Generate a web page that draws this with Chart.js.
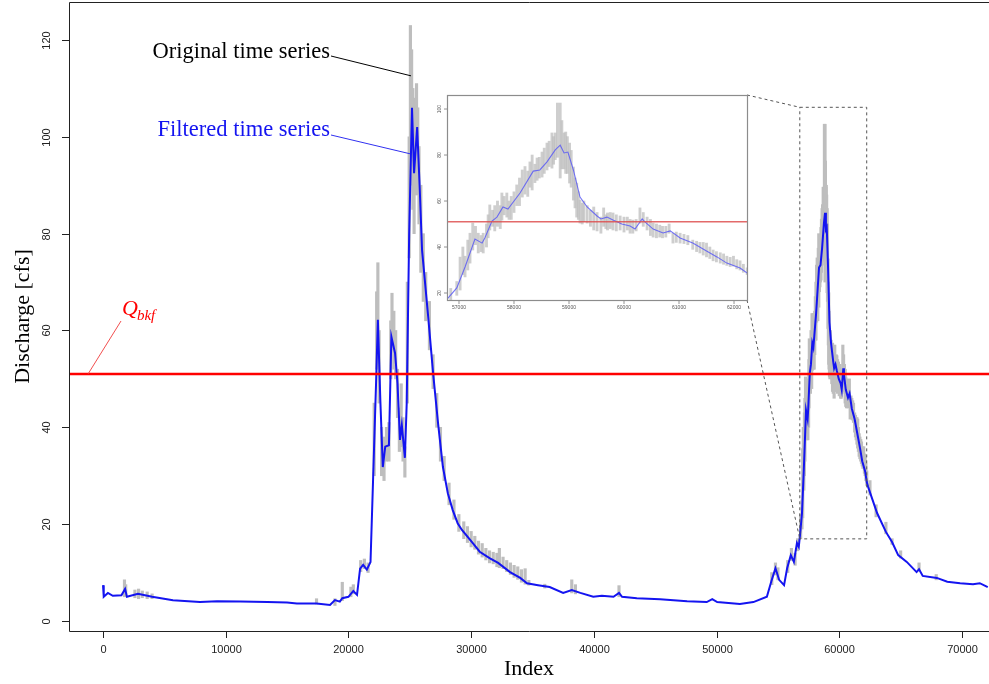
<!DOCTYPE html>
<html>
<head>
<meta charset="utf-8">
<script src="https://cdn.jsdelivr.net/npm/chart.js@4.4.0/dist/chart.umd.min.js"></script>
<style>
html, body { margin: 0; padding: 0; background: #fff; }
#wrap { position: relative; width: 989px; height: 684px; }
#main { position: absolute; left: 0; top: 0; }
#inset { position: absolute; left: 430px; top: 88px; }
</style>
</head>
<body>
<div id="wrap">
  <canvas id="main" width="989" height="684"></canvas>
  <canvas id="inset" width="322" height="226"></canvas>
</div>
<script>
// filtered series (blue)
const filteredIdx = [0, 60, 400, 800, 1500, 1800, 1950, 2850, 4000, 5700, 7900, 9300, 11200, 13400, 15000, 15800, 17400, 18500, 18900, 19300,
  19500, 20000, 20400, 20700, 20950, 21200, 21500, 21800, 22000, 22250, 22400, 22600, 22800, 23000, 23300, 23500, 23800, 24000, 24200, 24350,
  24600, 24750, 24950, 25180, 25350, 25600, 25800, 26000, 26500, 26900, 27300, 27700, 28100, 28500, 28900, 29250, 30070, 30700, 31500, 32200,
  33170, 34000, 34550, 35450, 36400, 37500, 38200, 38900, 39950, 40650, 41600, 42050, 42300, 43500, 45400, 47600, 49200, 49650, 50050, 51900,
  53000, 54100, 54500, 54800, 55100, 55500, 55750, 56050, 56300, 56550, 56700, 56800, 56960, 57110, 57290, 57420, 57470, 57600, 57690, 57800,
  57890, 58110, 58350, 58470, 58600, 58750, 58840, 58910, 58980, 59080, 59200, 59330, 59510, 59580, 59690, 59800, 59960, 60110, 60200, 60330,
  60380, 60530, 60710, 60840, 61020, 61250, 61500, 61690, 61870, 62110, 62240, 62350, 63080, 63800, 64300, 64800, 65500, 66300, 66500, 66800,
  67950, 68800, 69850, 70900, 71450, 72100];
const filteredVal = [7.4, 5.0, 5.8, 5.2, 5.3, 6.6, 5.0, 5.6, 5.0, 4.3, 3.9, 4.1, 4.0, 3.9, 3.8, 3.6, 3.6, 3.3, 4.3, 4.0,
  4.7, 5.0, 6.2, 5.4, 10.8, 11.6, 10.6, 12.2, 28.5, 49, 62.2, 45.6, 31.8, 36, 36.3, 58.7, 55.3, 49, 37.4, 40.5,
  33.7, 45, 80, 106, 92.5, 102, 90, 76.6, 62.8, 51.2, 40.9, 31.8, 26.4, 22.9, 20.2, 18.8, 16.3, 14.3, 13.0, 12.0,
  10.1, 8.9, 7.8, 7.4, 7.0, 5.8, 6.4, 5.8, 5.0, 5.2, 5.0, 5.8, 5.0, 4.7, 4.5, 4.1, 3.9, 4.5, 3.9, 3.5,
  3.9, 5.0, 8.5, 10.9, 8.5, 7.4, 10.9, 13.6, 12.2, 16.1, 15.3, 17.8, 22.2, 31.3, 43.5, 41.7, 43.9, 51.3, 53, 57.4,
  56.5, 63.5, 73, 73.5, 77, 82.2, 84.3, 80.9, 81.3, 73.5, 61.7, 57.4, 53.5, 52.2, 53, 51.7, 50, 49.1, 47.8, 52.2,
  50.9, 47.8, 46.1, 47, 43.9, 41.7, 38.3, 35.7, 33, 30.9, 28.7, 27.7, 22.3, 18.4, 16.3, 13.6, 12.2, 10.1, 10.7, 9.3,
  8.9, 8.1, 7.8, 7.6, 7.8, 7.0];

// original series (grey): low and high of the raw values around each index
const origIdx = [1750, 1850, 2600, 2900, 3200, 3600, 4000, 17400, 18900, 19500, 20200, 20400, 21000, 21300, 21600,
  22100, 22300, 22400, 22500, 22700, 22900, 23100, 23300, 23450, 23550, 23700, 23850, 24000, 24150, 24300, 24450, 24600,
  24800, 24950, 25050, 25150, 25250, 25350, 25450, 25550, 25650, 25750, 25900, 26100, 26300, 26600, 26900, 27200, 27500, 27800,
  28200, 28600, 29000, 29400, 29700, 30000, 30300, 30600, 30900, 31200, 31500, 31800, 32100, 32300, 32600, 32900, 33200, 33500,
  33800, 34100, 34400, 34700, 36000, 38200, 38500, 42050, 54500, 54800, 55000, 55800, 56100, 56400, 56600,
  56850, 56960, 57020, 57070, 57110, 57160, 57200, 57250, 57300, 57350, 57400, 57440, 57500, 57530, 57560, 57610,
  57650, 57700, 57750, 57780, 57820, 57870, 57910, 57950, 58000, 58050, 58100, 58150, 58200, 58250, 58290, 58330,
  58380, 58420, 58460, 58510, 58550, 58600, 58640, 58690, 58720, 58750, 58790, 58840, 58870, 58910, 58940, 58970,
  59010, 59040, 59080, 59110, 59140, 59170, 59200, 59240, 59270, 59330, 59390, 59450, 59510, 59580, 59630, 59670,
  59700, 59750, 59800, 59860, 59930, 60000, 60060, 60110, 60160, 60220, 60290, 60350, 60420, 60480, 60530, 60590,
  60650, 60700, 60760, 60820, 60890, 60950, 61020, 61090, 61160, 61250, 61320, 61380, 61440, 61500, 61560, 61620,
  61680, 61750, 61810, 61870, 61930, 61990, 62050, 62110, 62170, 62240,
  62500, 63000, 63800, 64300, 65000, 66500, 67900];
const origLow = [5.0, 5.5, 4.8, 4.6, 4.8, 4.6, 4.6, 3.5, 3.2, 4.2, 5.0, 5.6, 10.2, 10.8, 10.0,
  30, 52, 58, 45, 30, 29, 33, 33, 50, 56, 52, 50, 42, 35, 36, 33, 29.7,
  45, 75, 90, 96, 85, 80, 88, 92, 88, 82, 72, 66, 62, 56, 48, 40, 33, 29,
  24, 21, 18.5, 17, 16.2, 15.3, 14.8, 13.8, 13.2, 12.6, 12.0, 11.8, 11.2, 11.0, 10.8, 10.2, 9.6, 9.0,
  8.6, 8.0, 7.6, 7.4, 6.8, 5.8, 5.6, 5.0, 7.5, 9.5, 8.5, 10, 12.5, 11.5, 14.5,
  17, 19, 21.3, 28, 27, 30, 33, 38.7, 41, 37.4, 38, 37.4, 40, 44, 47.4, 49,
  47, 49, 48, 51.7, 54, 53, 52, 52, 55, 58, 58, 61.7, 63, 62, 66, 64.8,
  68, 69, 70, 70.4, 72, 73.5, 75, 74.3, 76, 78, 79, 70, 74, 74, 72, 72,
  67.8, 66, 60.4, 57, 53, 52, 50.4, 50, 51, 50.4, 49, 47.4, 47, 46, 49, 48,
  47.4, 48, 47.4, 47, 47.4, 46.5, 47.4, 46, 46, 47, 50.4, 49, 47.4, 45, 44.3, 44,
  44.3, 44, 44.3, 46, 41.7, 42, 41.7, 41.5, 41, 39, 38, 37.4, 36.5, 35.7, 35, 34,
  33.5, 33, 32.5, 32, 31.5, 31.7, 30.5, 30, 29, 28,
  26, 21.5, 18, 15.8, 13, 10.3, 8.5];
const origHigh = [8.5, 7.5, 6.4, 6.6, 6.2, 6.0, 5.6, 4.6, 4.6, 8.0, 7.0, 7.5, 12.5, 12.8, 12.0,
  45, 68, 74, 60, 40, 38, 40, 41, 62, 67.7, 64, 60, 52, 44, 49, 42, 36,
  70, 100, 123, 118, 110, 100, 108, 111, 106, 98, 90, 80, 72, 66, 55, 47, 40, 34,
  28.5, 25, 22, 20.5, 19.5, 18.5, 17.5, 16.5, 16, 15, 14.5, 14.2, 14.0, 15.0, 13.2, 12.5, 12, 11.5,
  11.2, 10.6, 10.8, 8.4, 7.6, 8.5, 7.5, 7.3, 10, 12, 11, 12.5, 15, 14, 17,
  22, 25, 35.6, 40, 36, 43, 46, 50.4, 49, 46, 45, 46, 50, 54, 58.3, 56,
  58, 60, 58, 63.5, 62, 63.5, 60, 62, 64, 67, 70, 73.5, 75, 73, 77, 80,
  76, 78.7, 79, 81.3, 83, 85.2, 86, 89.6, 88, 89.6, 102.6, 102.6, 95, 89.6, 90, 88,
  85.2, 82, 74.8, 70, 67.8, 64, 60.4, 59, 60, 58, 56, 57.4, 55, 53, 57, 54,
  54.8, 55, 54.8, 54, 53.5, 53, 53, 52, 51.7, 52, 57, 55, 53, 52, 50.4, 50,
  49.5, 49, 49, 50, 46, 46.5, 46, 45.5, 45, 43, 42.5, 42, 42, 41.7, 40, 38.7,
  38, 37.5, 37, 36, 35.5, 36, 34.5, 34, 32.5, 31,
  29, 24, 20.4, 17, 14.5, 12, 9.6];

const qbkf = 51;

const xTicks = [0, 10000, 20000, 30000, 40000, 50000, 60000, 70000];
const yTicks = [0, 20, 40, 60, 80, 100, 120];
const xLimits = [-2771, 72201];
const yLimits = [-2.07, 127.85];

const insetXTicks = [57000, 58000, 59000, 60000, 61000, 62000];
const insetYTicks = [20, 40, 60, 80, 100];
const insetXLimits = [56782, 62236];
const insetYLimits = [16.96, 106.1];

const filteredPts = filteredIdx.map((x, i) => ({x: x, y: filteredVal[i]}));
const origPts = origIdx.map((x, i) => ({x: x, y: [origLow[i], origHigh[i]]}));

const insetDecor = {
  id: 'insetDecor',
  afterDatasetsDraw(chart) {
    const {ctx, chartArea: a, scales: {x, y}} = chart;
    ctx.save();
    ctx.strokeStyle = '#8c8c8c';
    ctx.lineWidth = 1.2;
    ctx.strokeRect(a.left + 0.5, a.top + 0.5, a.right - a.left, a.bottom - a.top);
    ctx.lineWidth = 0.8;
    ctx.strokeStyle = '#777';
    ctx.fillStyle = '#555';
    ctx.font = '5px "Liberation Sans", Arial, sans-serif';
    ctx.textAlign = 'center';
    ctx.textBaseline = 'middle';
    insetXTicks.forEach(v => {
      const px = x.getPixelForValue(v);
      ctx.beginPath(); ctx.moveTo(px, a.bottom + 1); ctx.lineTo(px, a.bottom + 4); ctx.stroke();
      ctx.fillText(String(v), px, a.bottom + 8);
    });
    insetYTicks.forEach(v => {
      const py = y.getPixelForValue(v);
      ctx.beginPath(); ctx.moveTo(a.left - 3, py); ctx.lineTo(a.left, py); ctx.stroke();
      ctx.save(); ctx.translate(a.left - 7, py); ctx.rotate(-Math.PI / 2);
      ctx.fillText(String(v), 0, 0);
      ctx.restore();
    });
    ctx.restore();
  }
};

const insetChart = new Chart(document.getElementById('inset'), {
  type: 'line',
  data: {
    datasets: [
      {type: 'line', data: [{x: insetXLimits[0], y: qbkf}, {x: insetXLimits[1], y: qbkf}], borderColor: 'rgba(222,80,80,0.85)', borderWidth: 1.5, pointRadius: 0, order: 1},
      {type: 'line', data: filteredPts, borderColor: 'rgba(90,90,245,0.85)', borderWidth: 1.1, pointRadius: 0, order: 2},
      {type: 'bar', data: origPts, backgroundColor: 'rgba(190,190,190,0.75)', barThickness: 2.2, order: 3}
    ]
  },
  options: {
    responsive: false, animation: false, events: [],
    layout: {padding: {left: 17, top: 7, right: 5, bottom: 14}},
    plugins: {legend: {display: false}, tooltip: {enabled: false}},
    scales: {
      x: {type: 'linear', min: insetXLimits[0], max: insetXLimits[1], display: false, offset: false},
      y: {type: 'linear', min: insetYLimits[0], max: insetYLimits[1], display: false}
    }
  },
  plugins: [insetDecor]
});

const mainDecor = {
  id: 'mainDecor',
  afterDatasetsDraw(chart) {
    const {ctx, chartArea: a, scales: {x, y}} = chart;
    ctx.save();
    // box (right side is off the picture)
    ctx.strokeStyle = '#222';
    ctx.lineWidth = 1;
    ctx.beginPath();
    ctx.moveTo(a.right, a.top + 0.5);
    ctx.lineTo(a.left + 0.5, a.top + 0.5);
    ctx.lineTo(a.left + 0.5, a.bottom + 0.5);
    ctx.lineTo(a.right, a.bottom + 0.5);
    ctx.stroke();

    ctx.fillStyle = '#222';
    ctx.font = '11px "Liberation Sans", Arial, sans-serif';
    ctx.textAlign = 'center';
    ctx.textBaseline = 'middle';
    xTicks.forEach(v => {
      const px = Math.round(x.getPixelForValue(v)) + 0.5;
      ctx.beginPath(); ctx.moveTo(px, a.bottom); ctx.lineTo(px, a.bottom + 7); ctx.stroke();
      ctx.fillText(String(v), px, a.bottom + 19);
    });
    yTicks.forEach(v => {
      const py = Math.round(y.getPixelForValue(v)) + 0.5;
      ctx.beginPath(); ctx.moveTo(a.left - 7, py); ctx.lineTo(a.left, py); ctx.stroke();
      ctx.save(); ctx.translate(a.left - 22, py); ctx.rotate(-Math.PI / 2);
      ctx.fillText(String(v), 0, 0);
      ctx.restore();
    });

    ctx.fillStyle = '#000';
    ctx.font = '22px "Liberation Serif", "Times New Roman", serif';
    ctx.fillText('Index', (a.left + a.right) / 2, a.bottom + 38);
    ctx.save(); ctx.translate(23, (a.top + a.bottom) / 2); ctx.rotate(-Math.PI / 2);
    ctx.fillText('Discharge [cfs]', 0, 0);
    ctx.restore();

    // labels for the two series
    ctx.font = '22.5px "Liberation Serif", "Times New Roman", serif';
    ctx.textAlign = 'right';
    ctx.fillStyle = '#000';
    ctx.fillText('Original time series', 330, 52);
    ctx.strokeStyle = '#000';
    ctx.beginPath(); ctx.moveTo(331, 56); ctx.lineTo(x.getPixelForValue(25100), y.getPixelForValue(112.6)); ctx.stroke();
    ctx.fillStyle = '#1414f0';
    ctx.fillText('Filtered time series', 330, 130);
    ctx.strokeStyle = '#3030f0';
    ctx.beginPath(); ctx.moveTo(331, 135); ctx.lineTo(x.getPixelForValue(25018), y.getPixelForValue(96.5)); ctx.stroke();

    // Q_bkf label
    ctx.strokeStyle = 'rgba(240,60,60,0.9)';
    ctx.beginPath(); ctx.moveTo(x.getPixelForValue(-1222), y.getPixelForValue(qbkf)); ctx.lineTo(121, 321); ctx.stroke();
    ctx.fillStyle = '#ff0000';
    ctx.textAlign = 'left';
    ctx.textBaseline = 'alphabetic';
    ctx.font = 'italic 22px "Liberation Serif", "Times New Roman", serif';
    ctx.fillText('Q', 122, 315);
    const qw = ctx.measureText('Q').width;
    ctx.font = 'italic 15px "Liberation Serif", "Times New Roman", serif';
    ctx.fillText('bkf', 122 + qw - 1, 320);

    // zoom box and connectors to the inset
    const rl = x.getPixelForValue(insetXLimits[0]), rr = x.getPixelForValue(insetXLimits[1]);
    const rt = y.getPixelForValue(insetYLimits[1]), rb = y.getPixelForValue(insetYLimits[0]);
    const ic = insetChart.canvas, ia = insetChart.chartArea;
    const ir = ic.offsetLeft + ia.right, it = ic.offsetTop + ia.top, ib = ic.offsetTop + ia.bottom;
    ctx.strokeStyle = '#555';
    ctx.setLineDash([3, 3]);
    ctx.strokeRect(rl, rt, rr - rl, rb - rt);
    ctx.beginPath();
    ctx.moveTo(ir, it); ctx.lineTo(rl, rt);
    ctx.moveTo(ir, ib); ctx.lineTo(rl, rb);
    ctx.stroke();
    ctx.restore();
  }
};

new Chart(document.getElementById('main'), {
  type: 'line',
  data: {
    datasets: [
      {type: 'line', label: 'Qbkf', data: [{x: xLimits[0], y: qbkf}, {x: xLimits[1], y: qbkf}], borderColor: '#ff0000', borderWidth: 2.5, pointRadius: 0, order: 1},
      {type: 'line', label: 'Filtered time series', data: filteredPts, borderColor: '#1414f0', borderWidth: 2, pointRadius: 0, order: 2},
      {type: 'bar', label: 'Original time series', data: origPts, backgroundColor: '#bebebe', barThickness: 2.5, order: 3}
    ]
  },
  options: {
    responsive: false, animation: false, events: [],
    layout: {padding: {left: 69, top: 2, right: 0, bottom: 53}},
    plugins: {legend: {display: false}, tooltip: {enabled: false}},
    scales: {
      x: {type: 'linear', min: xLimits[0], max: xLimits[1], display: false, offset: false},
      y: {type: 'linear', min: yLimits[0], max: yLimits[1], display: false}
    }
  },
  plugins: [mainDecor]
});
</script>
</body>
</html>
